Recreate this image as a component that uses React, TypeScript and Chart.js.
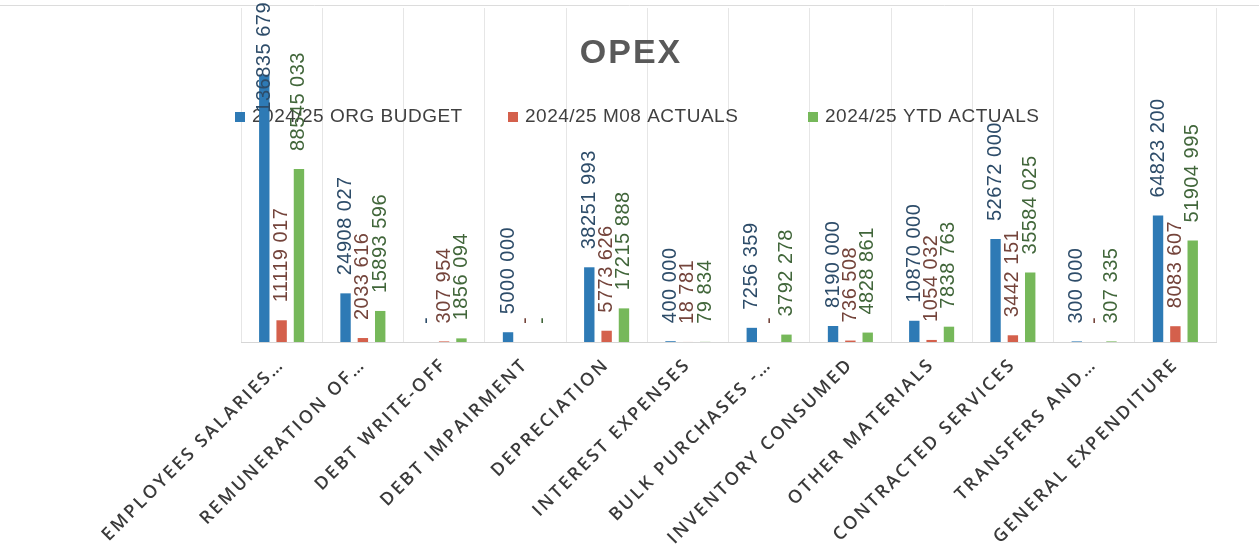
import { useEffect, useRef } from "react";
import { Chart, registerables } from "chart.js";

Chart.register(...registerables);

const titleText = "OPEX";
const categories = [
  "EMPLOYEES SALARIES…",
  "REMUNERATION OF…",
  "DEBT WRITE-OFF",
  "DEBT IMPAIRMENT",
  "DEPRECIATION",
  "INTEREST EXPENSES",
  "BULK PURCHASES -…",
  "INVENTORY CONSUMED",
  "OTHER MATERIALS",
  "CONTRACTED SERVICES",
  "TRANSFERS AND…",
  "GENERAL EXPENDITURE",
];
const seriesNames = ["2024/25 ORG BUDGET", "2024/25 M08 ACTUALS", "2024/25 YTD ACTUALS"];
const budget = [136835679, 24908027, 0, 5000000, 38251993, 400000, 7256359, 8190000, 10870000, 52672000, 300000, 64823200];
const m08 = [11119017, 2033616, 307954, 0, 5773626, 18781, 0, 736508, 1054032, 3442151, 0, 8083607];
const ytd = [88545033, 15893596, 1856094, 0, 17215888, 79834, 3792278, 4828861, 7838763, 35584025, 307335, 51904995];

const barColors = ["#2E7AB5", "#D4604C", "#76B85A"];
const labelColors = ["#2d4c69", "#74443b", "#41663a"];
const legendX = [235, 508, 808];

function fmt(v: number): string {
  if (!v) return "-";
  const thousands = Math.floor(v / 1000);
  const rest = String(v % 1000).padStart(3, "0");
  return thousands > 0 ? `${thousands} ${rest}` : String(v);
}

const spacingPlugin = {
  id: "spacing",
  beforeDraw(chart: any) {
    chart.ctx.letterSpacing = "2.5px";
  },
  beforeDatasetsDraw(chart: any) {
    const ctx = chart.ctx;
    ctx.letterSpacing = "0px";
    // top frame line
    ctx.save();
    ctx.strokeStyle = "#dcdcdc";
    ctx.lineWidth = 1;
    ctx.beginPath();
    ctx.moveTo(0, 5.5);
    ctx.lineTo(chart.width, 5.5);
    ctx.stroke();
    ctx.restore();
    // title
    ctx.save();
    ctx.font = 'bold 34px "Liberation Sans"';
    ctx.letterSpacing = "2px";
    ctx.fillStyle = "#595959";
    ctx.textAlign = "center";
    ctx.textBaseline = "middle";
    ctx.fillText(titleText, 631, 54);
    ctx.restore();
    // legend
    ctx.save();
    ctx.font = '19px "Liberation Sans"';
    ctx.letterSpacing = "0.5px";
    ctx.textBaseline = "middle";
    ctx.textAlign = "left";
    const y = 117;
    chart.data.datasets.forEach((ds: any, i: number) => {
      const x = legendX[i];
      ctx.fillStyle = barColors[i];
      ctx.fillRect(x, y - 5, 10, 10);
      ctx.fillStyle = "#404040";
      ctx.fillText(ds.label, x + 17, y);
    });
    ctx.restore();
  },
};

const valueLabelPlugin = {
  id: "valueLabels",
  afterDatasetsDraw(chart: any) {
    const ctx = chart.ctx;
    ctx.save();
    ctx.letterSpacing = "0.5px";
    ctx.font = '20px "Liberation Sans"';
    chart.data.datasets.forEach((ds: any, i: number) => {
      const meta = chart.getDatasetMeta(i);
      meta.data.forEach((bar: any, j: number) => {
        const v = ds.data[j];
        const txt = fmt(v);
        const w = ctx.measureText(txt).width;
        let y = bar.y - 18;
        if (y - w < 2) y = w + 2;
        ctx.save();
        ctx.translate(bar.x, y);
        ctx.rotate(-Math.PI / 2);
        ctx.fillStyle = labelColors[i];
        ctx.textAlign = "left";
        ctx.textBaseline = "middle";
        ctx.fillText(txt, 0, 0);
        ctx.restore();
      });
    });
    ctx.restore();
  },
};

export default function App() {
  const ref = useRef<HTMLCanvasElement | null>(null);
  useEffect(() => {
    if (!ref.current) return;
    const chart = new Chart(ref.current, {
      type: "bar",
      data: {
        labels: categories,
        datasets: [budget, m08, ytd].map((d, i) => ({
          label: seriesNames[i],
          data: d,
          backgroundColor: barColors[i],
          categoryPercentage: 0.64,
          barPercentage: 0.6,
        })),
      },
      options: {
        animation: false,
        responsive: true,
        maintainAspectRatio: false,
        layout: { padding: { top: 8, left: 241, right: 43, bottom: 0 } },
        plugins: {
          legend: { display: false },
          tooltip: { enabled: false },
          title: { display: false },
        },
        scales: {
          x: {
            grid: { color: "#e6e6e6", drawTicks: false, offset: true },
            border: { color: "#d6d6d6" },
            ticks: {
              color: "#3a3a3a",
              font: { family: '"Open Sans"', size: 18, weight: "600" },
              maxRotation: 45,
              minRotation: 45,
              padding: 12,
              autoSkip: false,
            },
            afterFit(scale: any) {
              scale.height = 213;
            },
          },
          y: { display: false, min: 0, max: 171000000 },
        },
      },
      plugins: [spacingPlugin, valueLabelPlugin],
    });
    return () => chart.destroy();
  }, []);
  return (
    <div style={{ position: "fixed", left: 0, top: 0, width: 1259, height: 555, background: "#fff" }}>
      <canvas ref={ref} />
    </div>
  );
}
